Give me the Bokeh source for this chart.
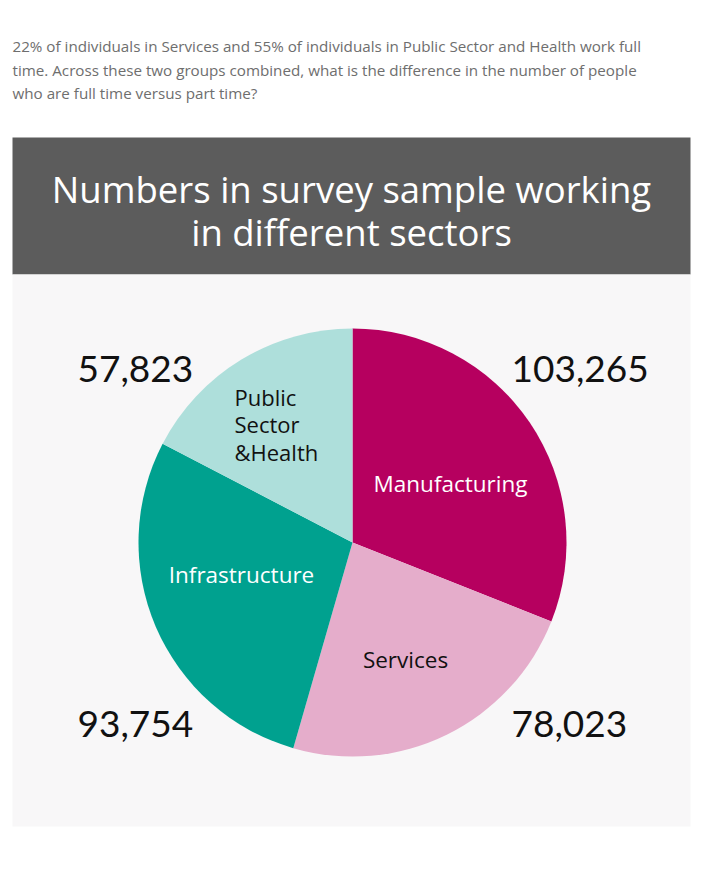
import math
from bokeh.plotting import figure
from bokeh.models import Range1d, ColumnDataSource
from bokeh.core.properties import value
from bokeh.embed import file_html
from bokeh.resources import INLINE

# ---- data ----
sectors = ["Manufacturing", "Services", "Infrastructure", "Public Sector & Health"]
counts = [103265, 78023, 93754, 57823]
count_labels = ["103,265", "78,023", "93,754", "57,823"]
colors = ["#b6005f", "#e5adcb", "#00a18f", "#aedfdb"]
question_lines = [
    "22% of individuals in Services and 55% of individuals in Public Sector and Health work full",
    "time. Across these two groups combined, what is the difference in the number of people",
    "who are full time versus part time?",
]
title_lines = ["Numbers in survey sample working", "in different sectors"]

W, H = 718, 879
LATO = value("Lato")
OPEN = value("Open Sans")

def Y(py):
    return H - py

p = figure(width=W, height=H, output_backend="svg", toolbar_location=None,
           x_range=Range1d(0, W), y_range=Range1d(0, H), min_border=0)
p.axis.visible = False
p.grid.visible = False
p.outline_line_color = None
p.background_fill_color = "white"
p.border_fill_color = "white"

# question text
p.text(x=[12] * 3, y=[Y(45), Y(69), Y(92)], text=question_lines,
       text_font=OPEN, text_font_size="15.2px", text_color="#6e6e6e",
       text_baseline="middle", text_align="left")

# title box
p.quad(left=[12], right=[690], top=[Y(137)], bottom=[Y(274)],
       fill_color="#5c5c5c", line_color=None)
p.text(x=[351, 351], y=[Y(188), Y(231)], text=title_lines,
       text_font=OPEN, text_font_size="36.5px", text_color="white",
       text_baseline="middle", text_align="center")

# panel
p.quad(left=[12], right=[690], top=[Y(274)], bottom=[Y(826)],
       fill_color="#f8f7f8", line_color=None)

# pie
total = sum(counts)
cum = [0.0]
for c in counts:
    cum.append(cum[-1] + c / total)
starts = [math.pi / 2 - 2 * math.pi * cum[i] for i in range(len(counts))]
ends = [math.pi / 2 - 2 * math.pi * cum[i + 1] for i in range(len(counts))]
src = ColumnDataSource(dict(start=starts, end=ends, color=colors, sector=sectors, count=counts))
cx, cy, r = 352, Y(542), 214
p.wedge(x=cx, y=cy, radius=r, start_angle="start", end_angle="end",
        direction="clock", fill_color="color", line_color=None, source=src)

# labels inside slices
p.text(x=[450], y=[Y(483)], text=[sectors[0]], text_font=OPEN, text_font_size="22.5px",
       text_color="white", text_baseline="middle", text_align="center")
p.text(x=[405], y=[Y(659)], text=[sectors[1]], text_font=OPEN, text_font_size="22.5px",
       text_color="#111111", text_baseline="middle", text_align="center")
p.text(x=[241], y=[Y(574)], text=[sectors[2]], text_font=OPEN, text_font_size="22.5px",
       text_color="white", text_baseline="middle", text_align="center")
p.text(x=[234] * 3, y=[Y(396), Y(423), Y(451)], text=["Public", "Sector", "&Health"],
       text_font=OPEN, text_font_size="22px", text_color="#111111",
       text_baseline="middle", text_align="left")

# value labels
p.text(x=[511, 511, 77, 77], y=[Y(368), Y(723), Y(723), Y(368)], text=count_labels,
       text_font=LATO, text_font_size="37px", text_color="#111111",
       text_baseline="middle", text_align="left")

open("out.html", "w").write(file_html(p, INLINE))
